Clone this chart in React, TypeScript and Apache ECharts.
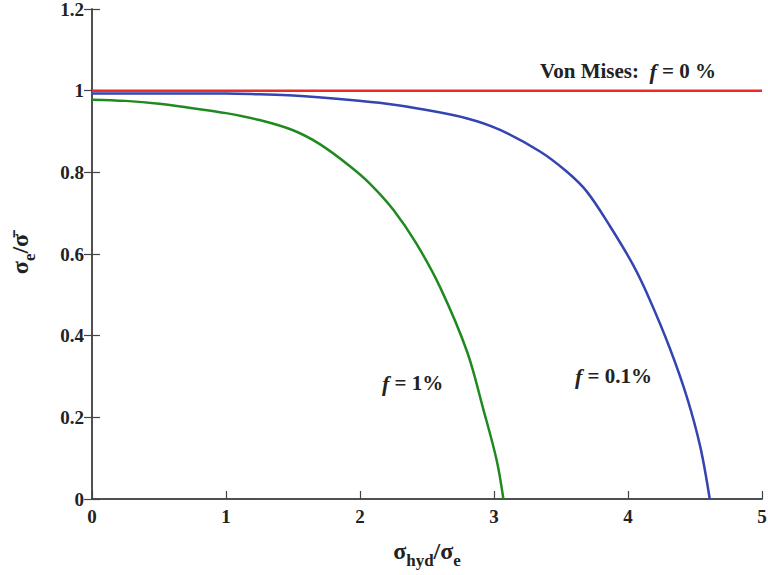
import React, { useEffect, useRef } from 'react';
import * as echarts from 'echarts';

// Von Mises (f = 0 %)
const redX = [0, 5];
const redY = [1, 1];

// f = 1 %
const greenX = [0, 0.25, 0.5, 0.75, 1.0, 1.25, 1.5, 1.7, 1.925, 2.075, 2.25, 2.42, 2.6, 2.8, 2.92, 3.02, 3.07];
const greenY = [0.978, 0.975, 0.968, 0.957, 0.945, 0.928, 0.903, 0.869, 0.815, 0.772, 0.708, 0.626, 0.517, 0.36, 0.22, 0.095, 0];

// f = 0.1 %
const blueX = [0, 0.5, 1.0, 1.25, 1.5, 1.93, 2.2, 2.42, 2.8, 3.045, 3.343, 3.542, 3.69, 3.866, 4.04, 4.164, 4.31, 4.44, 4.54, 4.61];
const blueY = [0.993, 0.993, 0.993, 0.991, 0.988, 0.977, 0.968, 0.957, 0.932, 0.904, 0.851, 0.802, 0.754, 0.668, 0.572, 0.487, 0.371, 0.249, 0.127, 0];

const xMin = 0, xMax = 5, xStep = 1;
const yMin = 0, yMax = 1.2, yStep = 0.2;

const zip = (xs: number[], ys: number[]) => xs.map((x, i) => [x, ys[i]]);

const FONT = '"Liberation Serif", "DejaVu Serif", serif';
const AX = '#444';

export default function App() {
  const ref = useRef<HTMLDivElement>(null);
  useEffect(() => {
    const chart = echarts.init(ref.current!, null, { renderer: 'svg' });
    const axisCommon = {
      axisLine: { show: true, lineStyle: { color: AX, width: 1.5 } },
      axisTick: { show: true, inside: true, length: 8, lineStyle: { color: AX, width: 1.2 } },
      splitLine: { show: false },
    };
    const annRich = { i: { fontStyle: 'italic', fontWeight: 'bold', fontSize: 22, fontFamily: FONT, fill: '#222' } };
    chart.setOption({
      animation: false,
      backgroundColor: '#fff',
      grid: { left: 92, right: 6, top: 9, bottom: 76, containLabel: false, outerBoundsMode: 'none' },
      xAxis: [
        {
          type: 'value', min: xMin, max: xMax, interval: xStep, position: 'bottom',
          ...axisCommon,
          axisLabel: { color: '#222', fontFamily: FONT, fontSize: 19, fontWeight: 'bold', margin: 8 },
          name: '{s|σ}{sub|hyd}{s|/σ}{sub|e}',
          nameLocation: 'middle',
          nameGap: 40,
          nameTextStyle: {
            rich: {
              s: { fontFamily: FONT, fontSize: 24, fontWeight: 'bold', color: '#222', lineHeight: 30, verticalAlign: 'top' },
              sub: { fontFamily: FONT, fontSize: 17, fontWeight: 'bold', color: '#222', lineHeight: 30, verticalAlign: 'bottom' },
            },
          },
        },
        {
          type: 'value', min: xMin, max: xMax, interval: xStep, position: 'top',
          ...axisCommon, axisTick: { show: false }, axisLabel: { show: false },
        },
      ],
      yAxis: [
        {
          type: 'value', min: yMin, max: yMax, interval: yStep, position: 'left',
          ...axisCommon,
          axisLabel: { color: '#222', fontFamily: FONT, fontSize: 19, fontWeight: 'bold', margin: 8, padding: [3, 0, 0, 0] },
          name: '{s|σ}{sub|e}{s|/σ̄}',
          nameLocation: 'middle',
          nameGap: 54,
          nameRotate: 90,
          nameTextStyle: {
            rich: {
              s: { fontFamily: FONT, fontSize: 24, fontWeight: 'bold', color: '#222', lineHeight: 30, verticalAlign: 'top' },
              sub: { fontFamily: FONT, fontSize: 17, fontWeight: 'bold', color: '#222', lineHeight: 30, verticalAlign: 'bottom' },
            },
          },
        },
        {
          type: 'value', min: yMin, max: yMax, interval: yStep, position: 'right',
          ...axisCommon, axisLabel: { show: false },
        },
      ],
      series: [
        {
          type: 'line', name: 'f = 0 %', data: zip(redX, redY), showSymbol: false,
          lineStyle: { color: '#ee2b2b', width: 2.5 }, z: 3,
        },
        {
          type: 'line', name: 'f = 0.1 %', data: zip(blueX, blueY), showSymbol: false,
          smooth: 0.35,
          lineStyle: { color: '#3444b0', width: 2.5 }, z: 2,
        },
        {
          type: 'line', name: 'f = 1 %', data: zip(greenX, greenY), showSymbol: false,
          smooth: 0.35,
          lineStyle: { color: '#1f8a1f', width: 2.5 }, z: 2,
        },
      ],
      graphic: [
        {
          type: 'text', left: 540, top: 60,
          style: { text: 'Von Mises:  {i|f} = 0 %', font: `bold 21px ${FONT}`, fill: '#222', rich: annRich },
        },
        {
          type: 'text', left: 382, top: 372,
          style: { text: '{i|f} = 1%', font: `bold 21px ${FONT}`, fill: '#222', rich: annRich },
        },
        {
          type: 'text', left: 575, top: 365,
          style: { text: '{i|f} = 0.1%', font: `bold 21px ${FONT}`, fill: '#222', rich: annRich },
        },
      ],
    });
    return () => chart.dispose();
  }, []);
  return <div ref={ref} style={{ position: 'absolute', left: 0, top: 0, width: 768, height: 575 }} />;
}
